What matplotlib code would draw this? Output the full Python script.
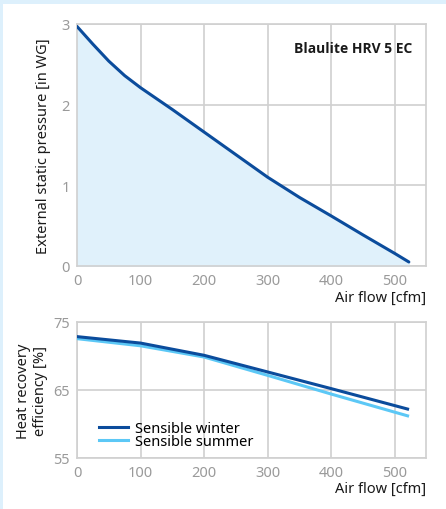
import matplotlib
matplotlib.use("Agg")
import matplotlib.pyplot as plt

plt.rcParams['font.family'] = ['Noto Sans', 'DejaVu Sans']

# Data
airflow_p = [0, 25, 50, 75, 100, 150, 200, 250, 300, 350, 400, 450, 500, 522]
pressure = [2.97, 2.75, 2.54, 2.36, 2.21, 1.94, 1.66, 1.38, 1.10, 0.85, 0.62, 0.385, 0.155, 0.05]

airflow_e = [0, 100, 200, 300, 400, 520]
eff_winter = [72.85, 71.9, 70.1, 67.65, 65.2, 62.2]
eff_summer = [72.55, 71.5, 69.85, 67.15, 64.4, 61.2]

x_ticks = [0, 100, 200, 300, 400, 500]
p_ticks = [0, 1, 2, 3]
e_ticks = [55, 65, 75]

title_text = "Blaulite HRV 5 EC"
xlabel = "Air flow [cfm]"
ylabel_p = "External static pressure [in WG]"
ylabel_e = "Heat recovery\nefficiency [%]"
legend_labels = ["Sensible winter", "Sensible summer"]

DARK = "#0b4c9c"
LIGHT = "#5cc8f6"
FILL = "#e0f1fb"
GRID = "#d0d0d0"
TICK = "#9a9a9a"
BG = "#ddf0fc"
TXT = "#1a1a1a"

fig = plt.figure(figsize=(4.46, 5.10), dpi=100)
fig.patch.set_facecolor(BG)
fig.patches.append(plt.Rectangle((3/446, 0), 1, 1 - 5/510, transform=fig.transFigure,
                                 facecolor="white", edgecolor="none", zorder=-10))

ax1 = fig.add_axes([77/446, 1 - 267/510, 349/446, 242/510])
ax2 = fig.add_axes([77/446, 1 - 459/510, 349/446, 136/510])

for ax in (ax1, ax2):
    ax.set_facecolor("white")
    ax.set_xlim(0, 549)
    ax.set_xticks(x_ticks)
    ax.grid(True, color=GRID, linewidth=1.2)
    ax.set_axisbelow(True)
    for s in ax.spines.values():
        s.set_color(GRID)
        s.set_linewidth(1.2)
    ax.tick_params(length=0, colors=TICK, labelsize=10.5, pad=5)

ax1.set_ylim(0, 3)
ax1.set_yticks(p_ticks)
ax1.fill_between(airflow_p, pressure, 0, color=FILL, zorder=1)
ax1.plot(airflow_p, pressure, color=DARK, linewidth=2.2, zorder=3, solid_capstyle='round')
ax1.text(0.96, 0.90, title_text, transform=ax1.transAxes, ha="right", va="center",
         fontsize=10, fontweight="bold", family=["Open Sans", "DejaVu Sans"], color=TXT)
ax1.set_ylabel(ylabel_p, fontsize=10.5, color=TXT, labelpad=8)
ax1.text(1.0, -0.128, xlabel, transform=ax1.transAxes, ha="right", va="center",
         fontsize=10.5, color=TXT)

ax2.set_ylim(55, 75)
ax2.set_yticks(e_ticks)
ax2.plot(airflow_e, eff_summer, color=LIGHT, linewidth=2.2, label=legend_labels[1], zorder=3)
ax2.plot(airflow_e, eff_winter, color=DARK, linewidth=2.2, label=legend_labels[0], zorder=4)
ax2.set_ylabel(ylabel_e, fontsize=10.5, color=TXT, labelpad=4, linespacing=1.15)
ax2.text(1.0, -0.222, xlabel, transform=ax2.transAxes, ha="right", va="center",
         fontsize=10.5, color=TXT)
handles, labels = ax2.get_legend_handles_labels()
ax2.legend(handles[::-1], labels[::-1], loc="lower left", bbox_to_anchor=(0.045, 0.02),
           frameon=False, fontsize=10.5, handlelength=2.05, handletextpad=0.45,
           labelspacing=-0.1, borderaxespad=0)

fig.savefig("out.png", dpi=100, facecolor=fig.get_facecolor())
